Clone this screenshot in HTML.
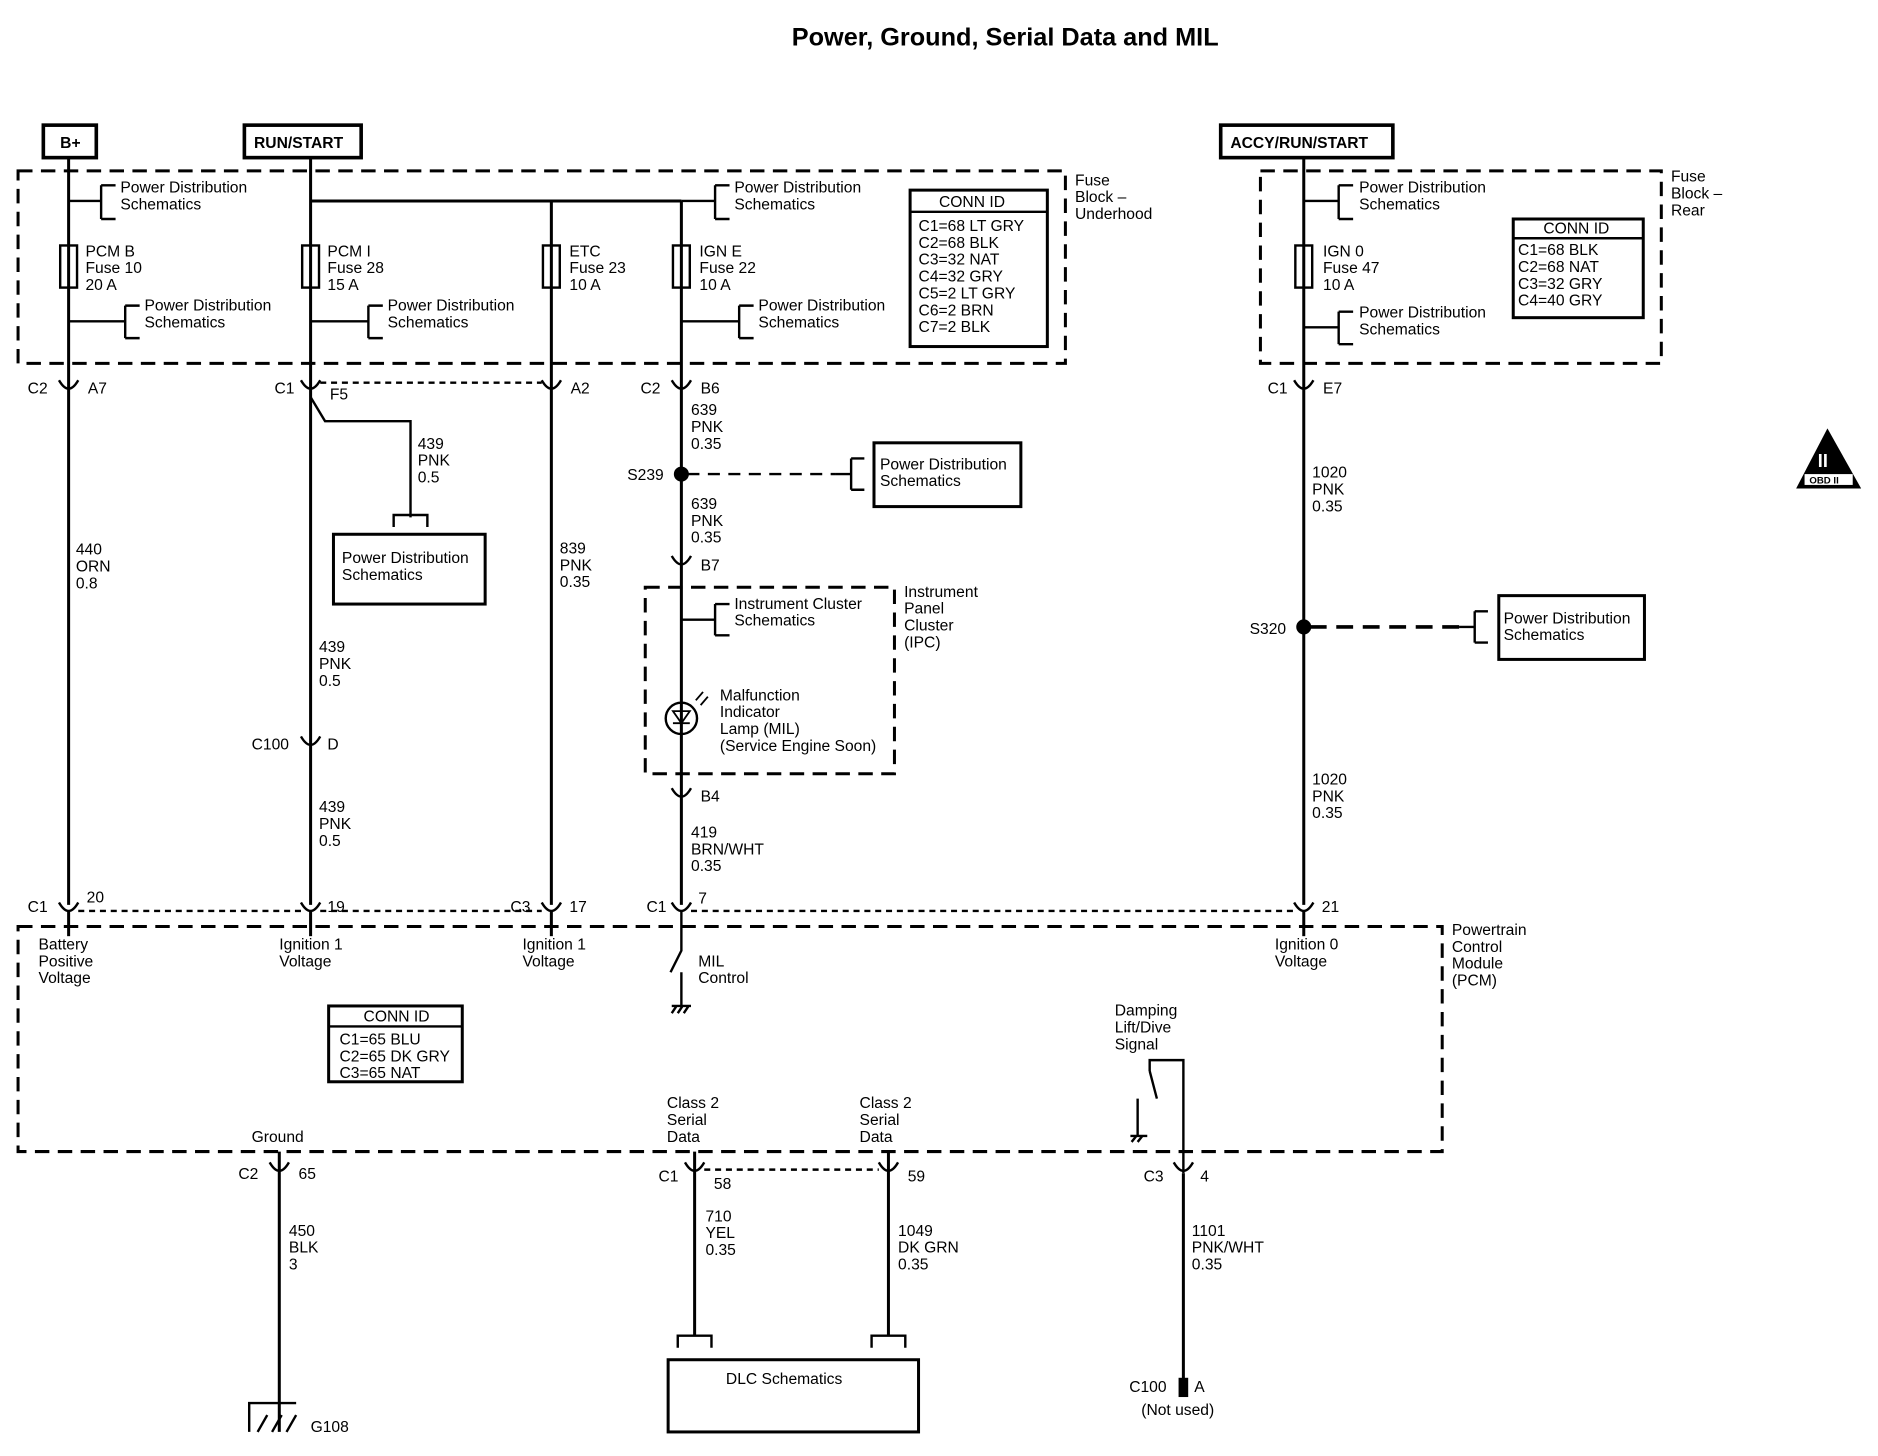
<!DOCTYPE html>
<html><head><meta charset="utf-8"><style>
html,body{margin:0;padding:0;background:#fff}
svg{display:block}
text{font-family:"Liberation Sans",Arial,sans-serif;font-size:13px;fill:#000}
.b{font-weight:bold}
</style></head><body>
<svg width="1878" height="1456" viewBox="0 0 1560 1210" preserveAspectRatio="none" xmlns="http://www.w3.org/2000/svg">
<g fill="none" stroke="#000" stroke-width="2.5">
<!-- top boxes -->
<rect x="36" y="104" width="44" height="27" stroke-width="3"/>
<rect x="203" y="104" width="97" height="27" stroke-width="3"/>
<rect x="1014" y="104" width="143" height="27" stroke-width="3"/>
<!-- fuse blocks -->
<rect x="15" y="142" width="870" height="160" stroke-dasharray="12,7"/>
<rect x="1047" y="142" width="333" height="160" stroke-dasharray="12,7"/>
<!-- main wires -->
<line x1="57" y1="131" x2="57" y2="752"/>
<line x1="258" y1="131" x2="258" y2="752"/>
<line x1="458" y1="167" x2="458" y2="752"/>
<line x1="566" y1="167" x2="566" y2="752"/>
<line x1="258" y1="167" x2="566" y2="167"/>
<line x1="1083" y1="131" x2="1083" y2="752"/>
<!-- fuses -->
<rect x="50" y="204" width="14" height="35" stroke-width="2"/>
<rect x="251" y="204" width="14" height="35" stroke-width="2"/>
<rect x="451" y="204" width="14" height="35" stroke-width="2"/>
<rect x="559" y="204" width="14" height="35" stroke-width="2"/>
<rect x="1076" y="204" width="14" height="35" stroke-width="2"/>
<!-- power dist brackets -->
<path d="M57 167H84M84 154V182M84 154H96M84 182H96" stroke-width="2"/>
<path d="M57 267H104M104 254V281M104 254H116M104 281H116" stroke-width="2"/>
<path d="M258 267H306M306 254V281M306 254H318M306 281H318" stroke-width="2"/>
<path d="M566 167H594M594 154V182M594 154H606M594 182H606" stroke-width="2"/>
<path d="M566 267H614M614 254V281M614 254H626M614 281H626" stroke-width="2"/>
<path d="M1083 167H1112M1112 154V182M1112 154H1124M1112 182H1124" stroke-width="2"/>
<path d="M1083 272H1112M1112 259V286M1112 259H1124M1112 286H1124" stroke-width="2"/>
<!-- conn id boxes -->
<rect x="756" y="158" width="114" height="130" stroke-width="2.5"/>
<line x1="756" y1="176" x2="870" y2="176" stroke-width="2"/>
<rect x="1257" y="182" width="108" height="82" stroke-width="2.5"/>
<line x1="1257" y1="198" x2="1365" y2="198" stroke-width="2"/>
<rect x="273" y="836" width="111" height="63" stroke-width="2.5"/>
<line x1="273" y1="853" x2="384" y2="853" stroke-width="2"/>
<!-- connectors top -->
<path d="M49 316Q57 330 65 316" stroke-width="2"/>
<path d="M250 316Q258 330 266 316" stroke-width="2"/>
<path d="M450 316Q458 330 466 316" stroke-width="2"/>
<path d="M558 316Q566 330 574 316" stroke-width="2"/>
<path d="M1075 316Q1083 330 1091 316" stroke-width="2"/>
<line x1="266" y1="318" x2="450" y2="318" stroke-width="2" stroke-dasharray="5,4"/>
<!-- 439 branch -->
<path d="M258 330L270 350H341V430M327 438V428H355V438" stroke-width="2"/>
<rect x="277" y="444" width="126" height="58"/>
<!-- S239 -->
<circle cx="566" cy="394" r="5" fill="#000"/>
<line x1="571" y1="394" x2="694" y2="394" stroke-dasharray="10,7" stroke-width="2"/>
<path d="M694 394H707M707 381V407M707 381H718M707 407H718" stroke-width="2"/>
<rect x="726" y="368" width="122" height="53"/>
<!-- B7 -->
<path d="M558 462Q566 476 574 462" stroke-width="2"/>
<!-- IPC box -->
<rect x="536" y="488" width="207" height="155" stroke-dasharray="12,7"/>
<path d="M566 515H594M594 502V528M594 502H606M594 528H606" stroke-width="2"/>
<circle cx="566" cy="597" r="13" stroke-width="2"/>
<path d="M559 591H573L566 601ZM559 601H573" stroke-width="1.5"/>
<path d="M578 582L584 575M582 586L588 579" stroke-width="1.5"/>
<!-- B4 -->
<path d="M558 655Q566 669 574 655" stroke-width="2"/>
<!-- C100 D -->
<path d="M250 612Q258 626 266 612" stroke-width="2"/>
<!-- S320 -->
<circle cx="1083" cy="521" r="5" fill="#000"/>
<line x1="1088" y1="521" x2="1212" y2="521" stroke-dasharray="14,8" stroke-width="3"/>
<path d="M1212 521H1225M1225 508V534M1225 508H1236M1225 534H1236" stroke-width="2"/>
<rect x="1245" y="495" width="121" height="53"/>
<!-- bottom connectors of top -->
<path d="M49 750Q57 764 65 750" stroke-width="2"/>
<path d="M250 750Q258 764 266 750" stroke-width="2"/>
<path d="M450 750Q458 764 466 750" stroke-width="2"/>
<path d="M558 750Q566 764 574 750" stroke-width="2"/>
<path d="M1075 750Q1083 764 1091 750" stroke-width="2"/>
<line x1="65" y1="757" x2="250" y2="757" stroke-width="2" stroke-dasharray="5,4"/>
<line x1="266" y1="757" x2="450" y2="757" stroke-width="2" stroke-dasharray="5,4"/>
<line x1="574" y1="757" x2="1075" y2="757" stroke-width="2" stroke-dasharray="5,4"/>
<line x1="57" y1="757" x2="57" y2="778"/>
<line x1="258" y1="757" x2="258" y2="778"/>
<line x1="458" y1="757" x2="458" y2="778"/>
<line x1="1083" y1="757" x2="1083" y2="778"/>
<!-- PCM box -->
<rect x="15" y="770" width="1183" height="187" stroke-dasharray="12,7"/>
<!-- MIL switch -->
<path d="M566 757V790L557 808M566 808V836M558 836H574M558 842L562 836M563 842L567 836M568 842L572 836" stroke-width="2"/>
<!-- damping switch -->
<path d="M983 975V881H955V890M955 890L961 913M945 913V944M939 944H953M940 949L944 944M945 949L949 944" stroke-width="2"/>
<!-- bottom connectors -->
<path d="M224 966Q232 980 240 966" stroke-width="2"/>
<path d="M569 966Q577 980 585 966" stroke-width="2"/>
<path d="M730 966Q738 980 746 966" stroke-width="2"/>
<path d="M975 966Q983 980 991 966" stroke-width="2"/>
<line x1="585" y1="972" x2="730" y2="972" stroke-width="2" stroke-dasharray="5,4"/>
<line x1="232" y1="957" x2="232" y2="1190"/>
<line x1="577" y1="957" x2="577" y2="1110"/>
<line x1="738" y1="957" x2="738" y2="1110"/>
<line x1="983" y1="975" x2="983" y2="1160"/>
<rect x="979" y="1145" width="8" height="16" fill="#000" stroke="none"/>
<path d="M563 1120V1110H591V1120M724 1120V1110H752V1120" stroke-width="2"/>
<rect x="555" y="1130" width="208" height="60"/>
<!-- ground -->
<path d="M207 1190V1166H246M214 1190L222 1176M226 1190L234 1176M238 1190L246 1176" stroke-width="2"/>
</g>
<!-- OBD II icon -->
<polygon points="1518,356 1492,406 1546,406" fill="#000"/>
<text x="1510" y="388" style="font-size:15px;fill:#fff" class="b">II</text>
<rect x="1499" y="394" width="40" height="9" fill="#fff"/>
<text x="1503" y="402" style="font-size:8px" class="b">OBD II</text>

<text x="835" y="38" text-anchor="middle" class="b" style="font-size:21px">Power, Ground, Serial Data and MIL</text>
<g class="b" style="font-size:14px">
<text x="50" y="123">B+</text>
<text x="211" y="123">RUN/START</text>
<text x="1022" y="123">ACCY/RUN/START</text>
</g>
<g>
<text x="100" y="160">Power Distribution</text><text x="100" y="174">Schematics</text>
<text x="71" y="213">PCM B</text><text x="71" y="227">Fuse 10</text><text x="71" y="241">20 A</text>
<text x="120" y="258">Power Distribution</text><text x="120" y="272">Schematics</text>
<text x="272" y="213">PCM I</text><text x="272" y="227">Fuse 28</text><text x="272" y="241">15 A</text>
<text x="322" y="258">Power Distribution</text><text x="322" y="272">Schematics</text>
<text x="473" y="213">ETC</text><text x="473" y="227">Fuse 23</text><text x="473" y="241">10 A</text>
<text x="581" y="213">IGN E</text><text x="581" y="227">Fuse 22</text><text x="581" y="241">10 A</text>
<text x="610" y="160">Power Distribution</text><text x="610" y="174">Schematics</text>
<text x="630" y="258">Power Distribution</text><text x="630" y="272">Schematics</text>
<text x="780" y="172">CONN ID</text>
<text x="763" y="192">C1=68 LT GRY</text><text x="763" y="206">C2=68 BLK</text><text x="763" y="220">C3=32 NAT</text><text x="763" y="234">C4=32 GRY</text><text x="763" y="248">C5=2 LT GRY</text><text x="763" y="262">C6=2 BRN</text><text x="763" y="276">C7=2 BLK</text>
<text x="893" y="154">Fuse</text><text x="893" y="168">Block –</text><text x="893" y="182">Underhood</text>
<text x="1129" y="160">Power Distribution</text><text x="1129" y="174">Schematics</text>
<text x="1099" y="213">IGN 0</text><text x="1099" y="227">Fuse 47</text><text x="1099" y="241">10 A</text>
<text x="1129" y="264">Power Distribution</text><text x="1129" y="278">Schematics</text>
<text x="1282" y="194">CONN ID</text>
<text x="1261" y="212">C1=68 BLK</text><text x="1261" y="226">C2=68 NAT</text><text x="1261" y="240">C3=32 GRY</text><text x="1261" y="254">C4=40 GRY</text>
<text x="1388" y="151">Fuse</text><text x="1388" y="165">Block –</text><text x="1388" y="179">Rear</text>
<text x="23" y="327">C2</text><text x="73" y="327">A7</text>
<text x="228" y="327">C1</text><text x="274" y="332">F5</text>
<text x="474" y="327">A2</text>
<text x="532" y="327">C2</text><text x="582" y="327">B6</text>
<text x="1053" y="327">C1</text><text x="1099" y="327">E7</text>
<text x="347" y="373">439</text><text x="347" y="387">PNK</text><text x="347" y="401">0.5</text>
<text x="284" y="468">Power Distribution</text><text x="284" y="482">Schematics</text>
<text x="574" y="345">639</text><text x="574" y="359">PNK</text><text x="574" y="373">0.35</text>
<text x="521" y="399">S239</text>
<text x="731" y="390">Power Distribution</text><text x="731" y="404">Schematics</text>
<text x="574" y="423">639</text><text x="574" y="437">PNK</text><text x="574" y="451">0.35</text>
<text x="582" y="474">B7</text>
<text x="751" y="496">Instrument</text><text x="751" y="510">Panel</text><text x="751" y="524">Cluster</text><text x="751" y="538">(IPC)</text>
<text x="610" y="506">Instrument  Cluster</text><text x="610" y="520">Schematics</text>
<text x="598" y="582">Malfunction</text><text x="598" y="596">Indicator</text><text x="598" y="610">Lamp (MIL)</text><text x="598" y="624">(Service Engine Soon)</text>
<text x="582" y="666">B4</text>
<text x="574" y="696">419</text><text x="574" y="710">BRN/WHT</text><text x="574" y="724">0.35</text>
<text x="63" y="461">440</text><text x="63" y="475">ORN</text><text x="63" y="489">0.8</text>
<text x="465" y="460">839</text><text x="465" y="474">PNK</text><text x="465" y="488">0.35</text>
<text x="265" y="542">439</text><text x="265" y="556">PNK</text><text x="265" y="570">0.5</text>
<text x="209" y="623">C100</text><text x="272" y="623">D</text>
<text x="265" y="675">439</text><text x="265" y="689">PNK</text><text x="265" y="703">0.5</text>
<text x="1090" y="397">1020</text><text x="1090" y="411">PNK</text><text x="1090" y="425">0.35</text>
<text x="1038" y="527">S320</text>
<text x="1249" y="518">Power Distribution</text><text x="1249" y="532">Schematics</text>
<text x="1090" y="652">1020</text><text x="1090" y="666">PNK</text><text x="1090" y="680">0.35</text>
<text x="23" y="758">C1</text><text x="72" y="750">20</text>
<text x="272" y="758">19</text>
<text x="424" y="758">C3</text><text x="473" y="758">17</text>
<text x="537" y="758">C1</text><text x="580" y="751">7</text>
<text x="1098" y="758">21</text>
<text x="32" y="789">Battery</text><text x="32" y="803">Positive</text><text x="32" y="817">Voltage</text>
<text x="232" y="789">Ignition 1</text><text x="232" y="803">Voltage</text>
<text x="434" y="789">Ignition 1</text><text x="434" y="803">Voltage</text>
<text x="580" y="803">MIL</text><text x="580" y="817">Control</text>
<text x="1059" y="789">Ignition 0</text><text x="1059" y="803">Voltage</text>
<text x="1206" y="777">Powertrain</text><text x="1206" y="791">Control</text><text x="1206" y="805">Module</text><text x="1206" y="819">(PCM)</text>
<text x="302" y="849">CONN ID</text>
<text x="282" y="868">C1=65 BLU</text><text x="282" y="882">C2=65 DK GRY</text><text x="282" y="896">C3=65 NAT</text>
<text x="926" y="844">Damping</text><text x="926" y="858">Lift/Dive</text><text x="926" y="872">Signal</text>
<text x="554" y="921">Class 2</text><text x="554" y="935">Serial</text><text x="554" y="949">Data</text>
<text x="714" y="921">Class 2</text><text x="714" y="935">Serial</text><text x="714" y="949">Data</text>
<text x="209" y="949">Ground</text>
<text x="198" y="980">C2</text><text x="248" y="980">65</text>
<text x="547" y="982">C1</text><text x="593" y="988">58</text>
<text x="754" y="982">59</text>
<text x="950" y="982">C3</text><text x="997" y="982">4</text>
<text x="240" y="1027">450</text><text x="240" y="1041">BLK</text><text x="240" y="1055">3</text>
<text x="586" y="1015">710</text><text x="586" y="1029">YEL</text><text x="586" y="1043">0.35</text>
<text x="746" y="1027">1049</text><text x="746" y="1041">DK GRN</text><text x="746" y="1055">0.35</text>
<text x="990" y="1027">1101</text><text x="990" y="1041">PNK/WHT</text><text x="990" y="1055">0.35</text>
<text x="603" y="1150">DLC Schematics</text>
<text x="938" y="1157">C100</text><text x="992" y="1157">A</text>
<text x="948" y="1176">(Not used)</text>
<text x="258" y="1190">G108</text>
</g>
</svg>
</body></html>
